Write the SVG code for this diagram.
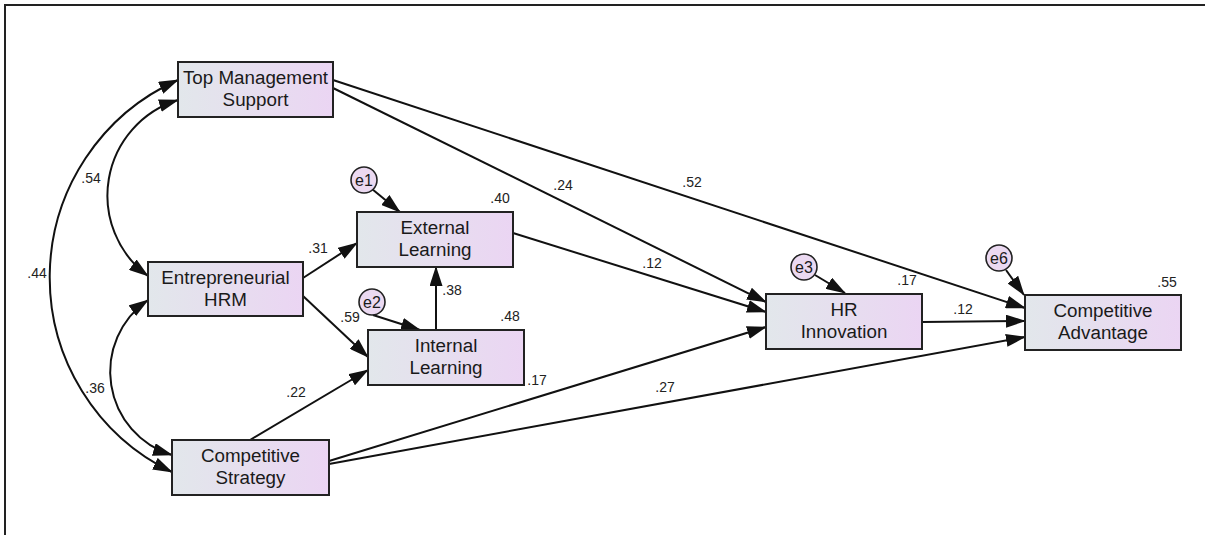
<svg xmlns="http://www.w3.org/2000/svg" width="1205" height="535" viewBox="0 0 1205 535">
  <defs>
    <linearGradient id="boxFill" x1="0" y1="0" x2="1" y2="0">
      <stop offset="0" stop-color="#e2e7eb"/>
      <stop offset="1" stop-color="#ebd5f3"/>
    </linearGradient>
    <marker id="arrow" markerUnits="userSpaceOnUse" markerWidth="20" markerHeight="13" refX="19" refY="6.5" orient="auto-start-reverse" viewBox="0 0 20 13">
      <path d="M0,0 L20,6.5 L0,13 z" fill="#111"/>
    </marker>
    <style>
      .box { fill: url(#boxFill); stroke: #222; stroke-width: 2; }
      .err { fill: #ebd9f1; stroke: #222; stroke-width: 1.6; }
      .name { font-family: "Liberation Sans", Arial, sans-serif; font-size: 18.8px; fill: #1a1a1a; text-anchor: middle; }
      .errname { font-family: "Liberation Sans", Arial, sans-serif; font-size: 16px; fill: #1a1a1a; text-anchor: middle; }
      .coef { font-family: "Liberation Sans", Arial, sans-serif; font-size: 14px; fill: #222; text-anchor: middle; }
      .path { fill: none; stroke: #111; stroke-width: 2; marker-end: url(#arrow); }
      .cov { fill: none; stroke: #111; stroke-width: 2; marker-start: url(#arrow); marker-end: url(#arrow); }
    </style>
  </defs>

  <rect x="0" y="0" width="1205" height="535" fill="#fff"/>
  <!-- frame (right and bottom sides fall outside the canvas) -->
  <path d="M5,540 V5 H1210" fill="none" stroke="#222" stroke-width="2"/>

  <g id="connectors">
    <!-- covariances -->
    <path class="cov" d="M178,80 A216,216 0 0,0 172,472"/>
    <path class="cov" d="M178,100 A100,100 0 0,0 148,276"/>
    <path class="cov" d="M148,300 A87,87 0 0,0 172,455"/>
    <!-- structural paths -->
    <path class="path" d="M303,278 L357,243"/>
    <path class="path" d="M303,296 L368,357"/>
    <path class="path" d="M250,440 L368,370"/>
    <path class="path" d="M436,330 L436,267"/>
    <path class="path" d="M333,88 L766,302"/>
    <path class="path" d="M333,80 L1025,308"/>
    <path class="path" d="M513,233 L766,312"/>
    <path class="path" d="M329,461 L766,327"/>
    <path class="path" d="M329,464 L1025,337"/>
    <path class="path" d="M922,322 L1025,321"/>
    <!-- error terms -->
    <path class="path" d="M372,189 L400,212"/>
    <path class="path" d="M373,315 L420,330"/>
    <path class="path" d="M815,275 L845,293"/>
    <path class="path" d="M1006,270 L1024,295"/>
  </g>

  <g id="labels">
    <text class="coef" x="91" y="183">.54</text>
    <text class="coef" x="37" y="278">.44</text>
    <text class="coef" x="95" y="393">.36</text>
    <text class="coef" x="318" y="253">.31</text>
    <text class="coef" x="350" y="322">.59</text>
    <text class="coef" x="296" y="397">.22</text>
    <text class="coef" x="500" y="203">.40</text>
    <text class="coef" x="452" y="295">.38</text>
    <text class="coef" x="510" y="321">.48</text>
    <text class="coef" x="537" y="385">.17</text>
    <text class="coef" x="563" y="190">.24</text>
    <text class="coef" x="692" y="187">.52</text>
    <text class="coef" x="652" y="268">.12</text>
    <text class="coef" x="665" y="392">.27</text>
    <text class="coef" x="907" y="285">.17</text>
    <text class="coef" x="963" y="314">.12</text>
    <text class="coef" x="1167" y="287">.55</text>
  </g>

  <g id="top-management-support">
    <rect class="box" x="178" y="62" width="155" height="55"/>
    <text class="name" x="255.5" y="84">Top Management</text>
    <text class="name" x="255.5" y="106">Support</text>
  </g>
  <g id="entrepreneurial-hrm">
    <rect class="box" x="148" y="262" width="155" height="54"/>
    <text class="name" x="225.5" y="284">Entrepreneurial</text>
    <text class="name" x="225.5" y="306">HRM</text>
  </g>
  <g id="competitive-strategy">
    <rect class="box" x="172" y="440" width="157" height="55"/>
    <text class="name" x="250.5" y="462">Competitive</text>
    <text class="name" x="250.5" y="484">Strategy</text>
  </g>
  <g id="external-learning">
    <rect class="box" x="357" y="212" width="156" height="55"/>
    <text class="name" x="435" y="234">External</text>
    <text class="name" x="435" y="256">Learning</text>
  </g>
  <g id="internal-learning">
    <rect class="box" x="368" y="330" width="156" height="55"/>
    <text class="name" x="446" y="352">Internal</text>
    <text class="name" x="446" y="374">Learning</text>
  </g>
  <g id="hr-innovation">
    <rect class="box" x="766" y="294" width="156" height="55"/>
    <text class="name" x="844" y="316">HR</text>
    <text class="name" x="844" y="338">Innovation</text>
  </g>
  <g id="competitive-advantage">
    <rect class="box" x="1025" y="295" width="156" height="55"/>
    <text class="name" x="1103" y="317">Competitive</text>
    <text class="name" x="1103" y="339">Advantage</text>
  </g>

  <g id="e1">
    <circle class="err" cx="364" cy="180" r="13"/>
    <text class="errname" x="364" y="186">e1</text>
  </g>
  <g id="e2">
    <circle class="err" cx="372" cy="302" r="13"/>
    <text class="errname" x="372" y="308">e2</text>
  </g>
  <g id="e3">
    <circle class="err" cx="804" cy="267" r="13"/>
    <text class="errname" x="804" y="273">e3</text>
  </g>
  <g id="e6">
    <circle class="err" cx="999" cy="258" r="13"/>
    <text class="errname" x="999" y="264">e6</text>
  </g>
</svg>
